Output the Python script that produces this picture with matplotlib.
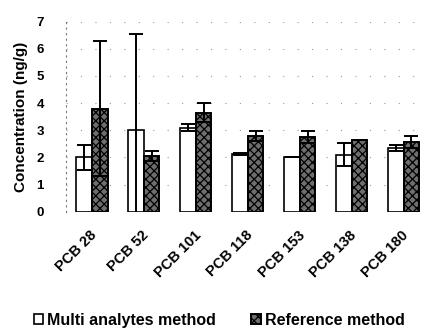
import matplotlib.pyplot as plt
import numpy as np

plt.rcParams['font.family'] = ['Liberation Sans', 'DejaVu Sans']
plt.rcParams['hatch.linewidth'] = 0.9

congeners = ['PCB 28', 'PCB 52', 'PCB 101', 'PCB 118', 'PCB 153', 'PCB 138', 'PCB 180']
multi_vals = [2.0, 3.0, 3.1, 2.12, 2.0, 2.1, 2.35]
multi_err = [0.45, 3.55, 0.12, 0.04, 0.0, 0.42, 0.12]
ref_vals = [3.8, 2.05, 3.65, 2.8, 2.75, 2.65, 2.58]
ref_err = [2.5, 0.2, 0.35, 0.18, 0.22, 0.0, 0.22]

fig = plt.figure(figsize=(4.27, 3.31), dpi=100)
ax = fig.add_axes([66 / 427, 1 - 211.7 / 331, 1 - 66 / 427, 190 / 331])

x = np.arange(len(congeners))
w = 0.3
ax.bar(x - w / 2, multi_vals, w, yerr=multi_err, color='white', edgecolor='black',
       linewidth=1.2, capsize=5, error_kw=dict(elinewidth=1.4, capthick=1.4),
       label='Multi analytes method')
ax.bar(x + w / 2, ref_vals, w, yerr=ref_err, color='#6e6e6e', edgecolor='black',
       hatch='xxxx', linewidth=1.4, capsize=5, error_kw=dict(elinewidth=1.4, capthick=1.4),
       label='Reference method')

ax.set_xlim(-0.5, 6.45)
ax.set_ylim(0, 7)
ax.set_yticks(range(8))
for s in ['top', 'right', 'bottom']:
    ax.spines[s].set_visible(False)
ax.spines['left'].set_linestyle((0, (1, 4)))
ax.spines['left'].set_color('#777777')
ax.tick_params(axis='y', length=0, pad=16, labelsize=9.5)
ax.tick_params(axis='x', length=0, pad=12, labelsize=10.5)
for lab in ax.get_yticklabels():
    lab.set_fontweight('bold')
ax.set_xticks(x - 0.04)
ax.set_xticklabels(congeners, rotation=45, ha='right', rotation_mode='anchor',
                   fontweight='bold')
ax.yaxis.grid(True, linestyle=(0, (1, 12)), color='#999999', linewidth=0.8)
ax.set_axisbelow(True)
ax.set_ylabel('Concentration (ng/g)', fontsize=11, fontweight='bold', labelpad=6)

fig.legend(loc='center', bbox_to_anchor=(0.513, 0.033), ncol=2, frameon=False,
           prop=dict(size=11.5, weight='bold'), handlelength=0.6, handleheight=0.6,
           handletextpad=0.25, columnspacing=2.2)

fig.savefig('out.png', dpi=100)
